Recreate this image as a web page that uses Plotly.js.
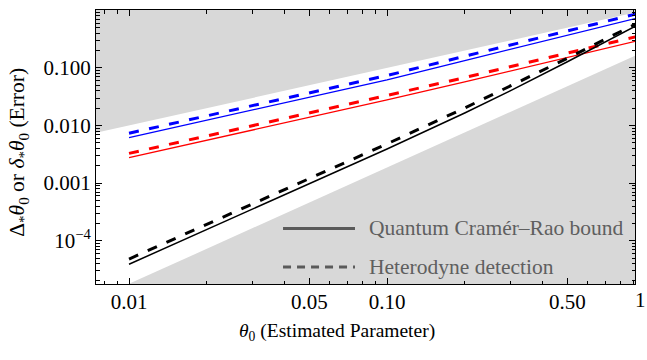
<!DOCTYPE html>
<html>
<head>
<meta charset="utf-8">
<script src="https://cdn.plot.ly/plotly-3.0.1.min.js"></script>
<style>html,body{margin:0;padding:0;background:#fff;}#chart{width:647px;height:360px;}</style>
</head>
<body>
<div id="chart"></div>
<script>
// ---- data ----
const theta = [0.01, 0.02, 0.05, 0.1, 0.2, 0.3, 0.5, 0.7, 0.92];
const blueQCRB  = [0.00616, 0.0123, 0.031, 0.062, 0.134, 0.21, 0.368, 0.535, 0.723];
const blueHet   = [0.00733, 0.0146, 0.0369, 0.0738, 0.159, 0.25, 0.438, 0.637, 0.86];
const redQCRB   = [0.00276, 0.0055, 0.0139, 0.0279, 0.057, 0.088, 0.152, 0.216, 0.29];
const redHet    = [0.00328, 0.00655, 0.0165, 0.0332, 0.068, 0.105, 0.181, 0.257, 0.346];
const blackQCRB = [3.9e-5, 1.56e-4, 9.8e-4, 0.0039, 0.0165, 0.040, 0.128, 0.28, 0.535];
const blackHet  = [4.8e-5, 1.92e-4, 1.2e-3, 0.0048, 0.0201, 0.048, 0.147, 0.314, 0.578];

// shaded (excluded) region edges
const upperEdgeX = [0.007, 1];
const upperEdgeY = [0.007, 1];
const lowerEdgeX = [0.01, 1];
const lowerEdgeY = [1.78e-5, 0.195];

// ticks
const xTickVals = [0.01, 0.05, 0.1, 0.5, 1];
const xTickText = ["0.01", "0.05", "0.10", "0.50", "1"];
const xMinorVals = [0.007, 0.008, 0.009, 0.02, 0.03, 0.04, 0.06, 0.07, 0.08, 0.09, 0.2, 0.3, 0.4, 0.6, 0.7, 0.8, 0.9];
const yTickVals = [1e-4, 1e-3, 1e-2, 0.1, 1];
const yTickText = ["10<sup>\u22124</sup>", "0.001", "0.010", "0.100", "1"];
const yMinorVals = [];
[1e-5, 1e-4, 1e-3, 1e-2, 1e-1].forEach(d => { for (let k = 2; k <= 9; k++) yMinorVals.push(+(d * k).toPrecision(3)); });

const legendLabels = ["Quantum Cram\u00e9r\u2013Rao bound", "Heterodyne detection"];
const xTitle = "<i>\u03b8</i><sub>0</sub> (Estimated Parameter)";
const yTitle = "\u0394<sub>*</sub><i>\u03b8</i><sub>0</sub> or <i>\u03b4</i><sub>*</sub><i>\u03b8</i><sub>0</sub> (Error)";

const FONT = "Liberation Serif, Times New Roman, serif";
const GRAY = "rgb(216,216,216)";
const FAR_HI = 100, FAR_LO = 1e-8;

const traces = [
  { // upper-left shaded region
    x: [upperEdgeX[0], upperEdgeX[1], upperEdgeX[1], upperEdgeX[0]],
    y: [upperEdgeY[0], upperEdgeY[1], FAR_HI, FAR_HI],
    fill: "toself", fillcolor: GRAY, mode: "lines", line: {width: 0, color: GRAY},
    hoverinfo: "skip", showlegend: false
  },
  { // lower-right shaded region
    x: [lowerEdgeX[0], lowerEdgeX[1], lowerEdgeX[1], lowerEdgeX[0]],
    y: [lowerEdgeY[0], lowerEdgeY[1], FAR_LO, FAR_LO],
    fill: "toself", fillcolor: GRAY, mode: "lines", line: {width: 0, color: GRAY},
    hoverinfo: "skip", showlegend: false
  },
  {x: theta, y: redQCRB, mode: "lines", line: {color: "rgb(255,0,0)", width: 1.3}, showlegend: false},
  {x: theta, y: redHet, mode: "lines", line: {color: "rgb(255,0,0)", width: 3, dash: "10px,10.5px"}, showlegend: false},
  {x: theta, y: blueQCRB, mode: "lines", line: {color: "rgb(0,0,255)", width: 1.3}, showlegend: false},
  {x: theta, y: blueHet, mode: "lines", line: {color: "rgb(0,0,255)", width: 3, dash: "10px,10.5px"}, showlegend: false},
  {x: theta, y: blackQCRB, mode: "lines", line: {color: "black", width: 1.5}, showlegend: false},
  {x: theta, y: blackHet, mode: "lines", line: {color: "black", width: 3, dash: "10px,10.5px"}, showlegend: false}
];

const axisCommon = {
  type: "log", showgrid: false, zeroline: false,
  showline: true, linecolor: "black", linewidth: 1, mirror: "allticks",
  ticks: "inside", ticklen: 6, tickwidth: 1, tickcolor: "black",
  tickmode: "array",
  tickfont: {family: FONT, size: 21, color: "black"},
  automargin: false
};

const layout = {
  width: 647, height: 360,
  margin: {l: 96, r: 12, t: 10, b: 76},
  paper_bgcolor: "white", plot_bgcolor: "white",
  font: {family: FONT, color: "black"},
  xaxis: Object.assign({}, axisCommon, {
    range: [-2.128, -0.039],
    tickvals: xTickVals, ticktext: xTickText,
    minor: {tickmode: "array", tickvals: xMinorVals, ticks: "inside", ticklen: 3.5, tickwidth: 1, tickcolor: "black"},
    ticklabelstandoff: -1
  }),
  yaxis: Object.assign({}, axisCommon, {
    range: [-4.752, 0.005],
    tickvals: yTickVals, ticktext: yTickText,
    minor: {tickmode: "array", tickvals: yMinorVals, ticks: "inside", ticklen: 3.5, tickwidth: 1, tickcolor: "black"},
    ticklabelstandoff: 0
  }),
  shapes: [
    {type: "line", xref: "paper", yref: "paper", x0: 0.347, x1: 0.4805, y0: 0.203, y1: 0.203, line: {color: "rgb(90,90,90)", width: 3}},
    {type: "line", xref: "paper", yref: "paper", x0: 0.347, x1: 0.4805, y0: 0.062, y1: 0.062, line: {color: "rgb(90,90,90)", width: 3, dash: "8px,6px"}}
  ],
  annotations: [
    {text: legendLabels[0], xref: "paper", yref: "paper", x: 0.5028, y: 0.203, xanchor: "left", yanchor: "middle", showarrow: false, font: {family: FONT, size: 21.5, color: "rgb(95,95,95)"}},
    {text: legendLabels[1], xref: "paper", yref: "paper", x: 0.5028, y: 0.062, xanchor: "left", yanchor: "middle", showarrow: false, font: {family: FONT, size: 21.5, color: "rgb(95,95,95)"}},
    {text: "1", xref: "paper", yref: "paper", x: 1.0111, y: -0.058, xanchor: "center", yanchor: "middle", showarrow: false, font: {family: FONT, size: 21, color: "black"}},
    {text: xTitle, xref: "paper", yref: "paper", x: 0.447, y: -0.176, xanchor: "center", yanchor: "middle", showarrow: false, font: {family: FONT, size: 19.5, color: "black"}},
    {text: yTitle, xref: "paper", yref: "paper", x: -0.1429, y: 0.4826, xanchor: "center", yanchor: "middle", textangle: -90, showarrow: false, font: {family: FONT, size: 21.5, color: "black"}}
  ]
};

Plotly.newPlot("chart", traces, layout, {displayModeBar: false, staticPlot: true});
</script>
</body>
</html>
